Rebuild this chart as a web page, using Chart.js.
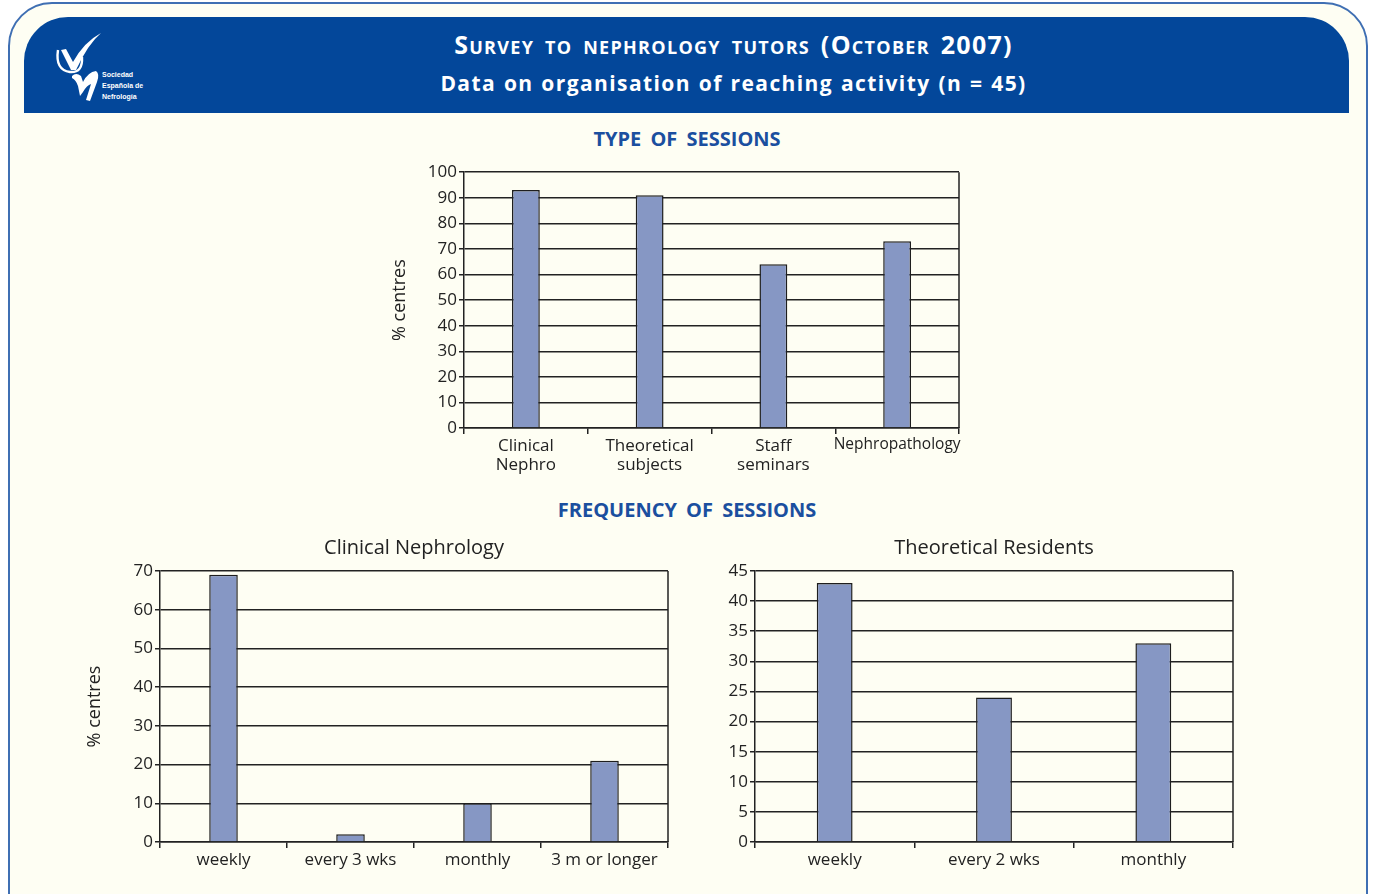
<!DOCTYPE html>
<html>
<head>
<meta charset="utf-8">
<script src="https://cdn.jsdelivr.net/npm/chart.js@4/dist/chart.umd.min.js"></script>
<style>
  html, body { margin: 0; padding: 0; background: #fff; }
  body { width: 1374px; height: 894px; position: relative; overflow: hidden; font-family: "Open Sans", "Noto Sans", sans-serif; }
  .frame { position: absolute; left: 8px; top: 2px; width: 1356px; height: 960px; border: 2px solid #3f6fb3; border-radius: 44px; background: #fefef3; }
  .band { position: absolute; left: 24px; top: 17px; width: 1325px; height: 96px; background: #03479a; border-radius: 44px 44px 0 0; }
  .band h1 { position: absolute; left: 0; right: 0; margin: 0; text-align: center; color: #fff; font-weight: 700; white-space: nowrap; }
  .t1 { top: 10px; font-size: 25px; font-variant: small-caps; letter-spacing: 1.3px; word-spacing: 3px; padding-left: 94px; }
  .t2 { top: 52px; font-size: 21px; letter-spacing: 1.4px; word-spacing: 1px; padding-left: 94px; }
  .logo { position: absolute; left: 30px; top: 13px; }
  .section { position: absolute; left: 0; width: 1374px; text-align: center; color: #1b4f9f; font-weight: 700; font-size: 20px; word-spacing: 4px; margin: 0; }
  canvas { position: absolute; }
</style>
</head>
<body>
<div class="frame"></div>
<div class="band">
  <svg class="logo" width="110" height="76" viewBox="0 0 110 76">
    <path d="M4 20 Q1 40 16 42 Q29 43 28 27" fill="none" stroke="#fff" stroke-width="2.4"/>
    <path d="M7 20 L12 19 L19 32 Q30 12 47 3 Q34 14 22 40 L17 40 Z" fill="#fff"/>
    <path d="M18 46 Q22 42 27 46 L29 52 Q34 42 42 41 Q46 44 43 52 L36 71 L32 70 L37 54 Q33 55 29 62 L26 66 L24 56 Q22 50 18 48 Z" fill="#fff"/>
    <text x="48" y="47" fill="#fff" font-family="Liberation Sans, Arial" font-weight="700" font-size="7">Sociedad</text>
    <text x="48" y="58" fill="#fff" font-family="Liberation Sans, Arial" font-weight="700" font-size="7">Española de</text>
    <text x="48" y="69" fill="#fff" font-family="Liberation Sans, Arial" font-weight="700" font-size="7">Nefrología</text>
  </svg>
  <h1 class="t1">Survey to nephrology tutors (October 2007)</h1>
  <h1 class="t2">Data on organisation of reaching activity (n = 45)</h1>
</div>
<p class="section" style="top:125px">TYPE OF SESSIONS</p>
<p class="section" style="top:496px">FREQUENCY OF SESSIONS</p>

<canvas id="types" style="left:380px; top:160px" width="600" height="330"></canvas>
<canvas id="clinical" style="left:70px; top:537px" width="620" height="345"></canvas>
<canvas id="theory" style="left:700px; top:537px" width="560" height="345"></canvas>

<script>
// % of centres (n = 45)
const sessionTypes = [['Clinical', 'Nephro'], ['Theoretical', 'subjects'], ['Staff', 'seminars'], 'Nephropathology'];
const sessionTypeValues = [93, 91, 64, 73];

const clinicalFreq = ['weekly', 'every 3 wks', 'monthly', '3 m or longer'];
const clinicalFreqValues = [69, 2, 10, 21];

const theoryFreq = ['weekly', 'every 2 wks', 'monthly'];
const theoryFreqValues = [43, 24, 33];

const FONT = '"Open Sans", "Noto Sans", sans-serif';
const INK = '#222';

// closes the plot box on the right side
const rightEdge = {
    id: 'rightEdge',
    afterDraw(chart) {
        const { ctx, chartArea } = chart;
        ctx.save();
        ctx.strokeStyle = INK;
        ctx.lineWidth = 1.5;
        ctx.beginPath();
        ctx.moveTo(chartArea.right, chartArea.top);
        ctx.lineTo(chartArea.right, chartArea.bottom);
        ctx.stroke();
        ctx.restore();
    }
};

// chart heading centred over the plot area rather than the canvas
const plotTitle = {
    id: 'plotTitle',
    afterDraw(chart, args, opts) {
        if (!opts.text) return;
        const { ctx, chartArea } = chart;
        ctx.save();
        ctx.fillStyle = INK;
        ctx.font = '20px ' + FONT;
        ctx.textAlign = 'center';
        ctx.textBaseline = 'middle';
        ctx.fillText(opts.text, (chartArea.left + chartArea.right) / 2, opts.y);
        ctx.restore();
    }
};

function barChart(id, labels, values, opts) {
    return new Chart(document.getElementById(id), {
        type: 'bar',
        data: {
            labels: labels,
            datasets: [{
                data: values,
                backgroundColor: '#8697c4',
                borderColor: '#1e1e1e',
                borderWidth: 1.5,
                barPercentage: 1,
                categoryPercentage: 0.225
            }]
        },
        options: {
            responsive: false,
            animation: false,
            layout: { padding: opts.padding },
            plugins: {
                legend: { display: false },
                tooltip: { enabled: false },
                title: { display: false },
                plotTitle: { text: opts.title, y: 11 }
            },
            scales: {
                x: {
                    grid: { offset: true, drawOnChartArea: false, color: INK, lineWidth: 1.5, tickLength: 6 },
                    border: { color: INK, width: 1.5 },
                    ticks: {
                        color: INK,
                        padding: 2,
                        maxRotation: 0,
                        autoSkip: false,
                        font: ctx => ({ family: FONT, size: (opts.squeeze && ctx.index === 3) ? 15.5 : 17, lineHeight: 1.15 })
                    },
                    afterFit: s => { s.height = opts.xHeight; }
                },
                y: {
                    min: 0,
                    max: opts.max,
                    grid: { color: INK, lineWidth: 1.5, tickLength: 5 },
                    border: { color: INK, width: 1.5 },
                    ticks: { stepSize: opts.step, color: INK, padding: 2, font: { family: FONT, size: 17 } },
                    title: opts.yTitle ? {
                        display: true,
                        text: '% centres',
                        color: INK,
                        font: { family: FONT, size: 18 },
                        padding: { top: opts.yTitlePad, bottom: 0 }
                    } : { display: false },
                    afterFit: s => { s.width = opts.yWidth; }
                }
            }
        },
        plugins: [rightEdge, plotTitle]
    });
}

barChart('types', sessionTypes, sessionTypeValues, {
    max: 100, step: 10, yTitle: true, yTitlePad: 9, yWidth: 84, xHeight: 62, squeeze: true,
    padding: { top: 12, right: 21, bottom: 0, left: 0 }
});

barChart('clinical', clinicalFreq, clinicalFreqValues, {
    max: 70, step: 10, yTitle: true, yTitlePad: 14, yWidth: 90, xHeight: 40,
    title: 'Clinical Nephrology',
    padding: { top: 34, right: 22, bottom: 0, left: 0 }
});

barChart('theory', theoryFreq, theoryFreqValues, {
    max: 45, step: 5, yTitle: false, yWidth: 55, xHeight: 40,
    title: 'Theoretical Residents',
    padding: { top: 34, right: 27, bottom: 0, left: 0 }
});
</script>
</body>
</html>
